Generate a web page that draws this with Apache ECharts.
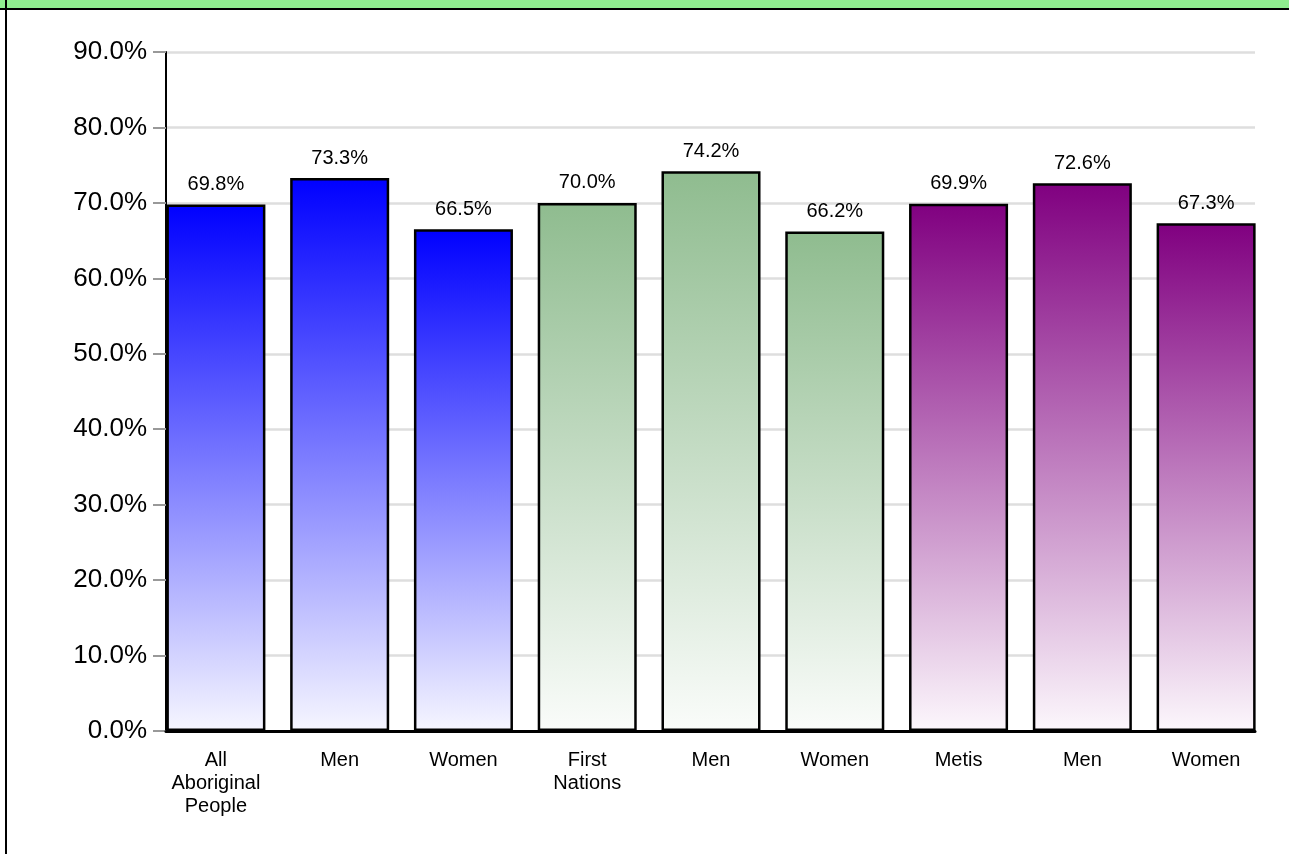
<!DOCTYPE html>
<html>
<head>
<meta charset="utf-8">
<script src="https://cdn.jsdelivr.net/npm/echarts@6/dist/echarts.min.js"></script>
<style>
  html, body { margin: 0; padding: 0; background: #fff; }
  #chart { position: absolute; left: 0; top: 0; width: 1289px; height: 854px; }
  .band { position: absolute; left: 0; top: 0; width: 1289px; height: 8px; background: #90ee90; border-bottom: 2px solid #000; }
  .side { position: absolute; left: 5px; top: 0; width: 2px; height: 854px; background: #000; }
</style>
</head>
<body>
<div id="chart"></div>
<div class="band"></div>
<div class="side"></div>
<script>
// chart data
const categories = ['All\nAboriginal\nPeople', 'Men', 'Women', 'First\nNations', 'Men', 'Women', 'Metis', 'Men', 'Women']
const rates = [69.8, 73.3, 66.5, 70.0, 74.2, 66.2, 69.9, 72.6, 67.3]
const groupOf = [0, 0, 0, 1, 1, 1, 2, 2, 2]
const yTicks = [0, 10, 20, 30, 40, 50, 60, 70, 80, 90]

// top / bottom colours of each group gradient
const groupColors = [
  ['#0000ff', '#f6f6ff'],
  ['#8fbc8f', '#fafcfa'],
  ['#800080', '#fcf7fc']
]

const font = 'Arial, "Liberation Sans", sans-serif'

function grad(pair) {
  return new echarts.graphic.LinearGradient(0, 0, 0, 1, [
    { offset: 0, color: pair[0] },
    { offset: 1, color: pair[1] }
  ])
}

const barData = rates.map((v, i) => ({
  value: v,
  itemStyle: { color: grad(groupColors[groupOf[i]]) }
}))

const chart = echarts.init(document.getElementById('chart'))

chart.setOption({
  backgroundColor: '#fff',
  animation: false,
  grid: [
    { left: 166, right: 34, top: 52, bottom: 123 },
    { left: 154, right: 21, top: 52, bottom: 123 }
  ],
  xAxis: [{
    gridIndex: 0,
    type: 'category',
    data: categories,
    axisLine: { lineStyle: { color: '#000', width: 3 } },
    axisTick: { show: false },
    axisLabel: { show: false },
    z: 5
  }, {
    gridIndex: 1,
    type: 'category',
    data: categories,
    axisLine: { show: false },
    axisTick: {
      alignWithLabel: true,
      length: 8,
      lineStyle: { color: '#888', width: 1 }
    },
    axisLabel: {
      margin: 18,
      color: '#000',
      fontFamily: font,
      fontSize: 20,
      lineHeight: 23,
      interval: 0
    }
  }],
  yAxis: [{
    gridIndex: 0,
    type: 'value',
    min: yTicks[0],
    max: yTicks[yTicks.length - 1],
    interval: 10,
    axisLine: { show: true, lineStyle: { color: '#000', width: 2 } },
    axisTick: { show: true, length: 13, lineStyle: { color: '#999', width: 2 } },
    axisLabel: {
      margin: 19,
      color: '#000',
      fontFamily: font,
      fontSize: 26,
      formatter: v => v.toFixed(1) + '%'
    },
    splitLine: { lineStyle: { color: '#dedede', width: 2.5 } },
    z: 0
  }, {
    gridIndex: 1,
    type: 'value',
    min: yTicks[0],
    max: yTicks[yTicks.length - 1],
    show: false
  }],
  series: [{
    type: 'bar',
    xAxisIndex: 1,
    yAxisIndex: 1,
    barCategoryGap: '20%',
    data: barData,
    itemStyle: { borderColor: '#000', borderWidth: 2.5 },
    label: {
      show: true,
      position: 'top',
      distance: 10,
      color: '#000',
      fontFamily: font,
      fontSize: 20,
      formatter: p => p.value.toFixed(1) + '%'
    },
    z: 3
  }]
})
</script>
</body>
</html>
